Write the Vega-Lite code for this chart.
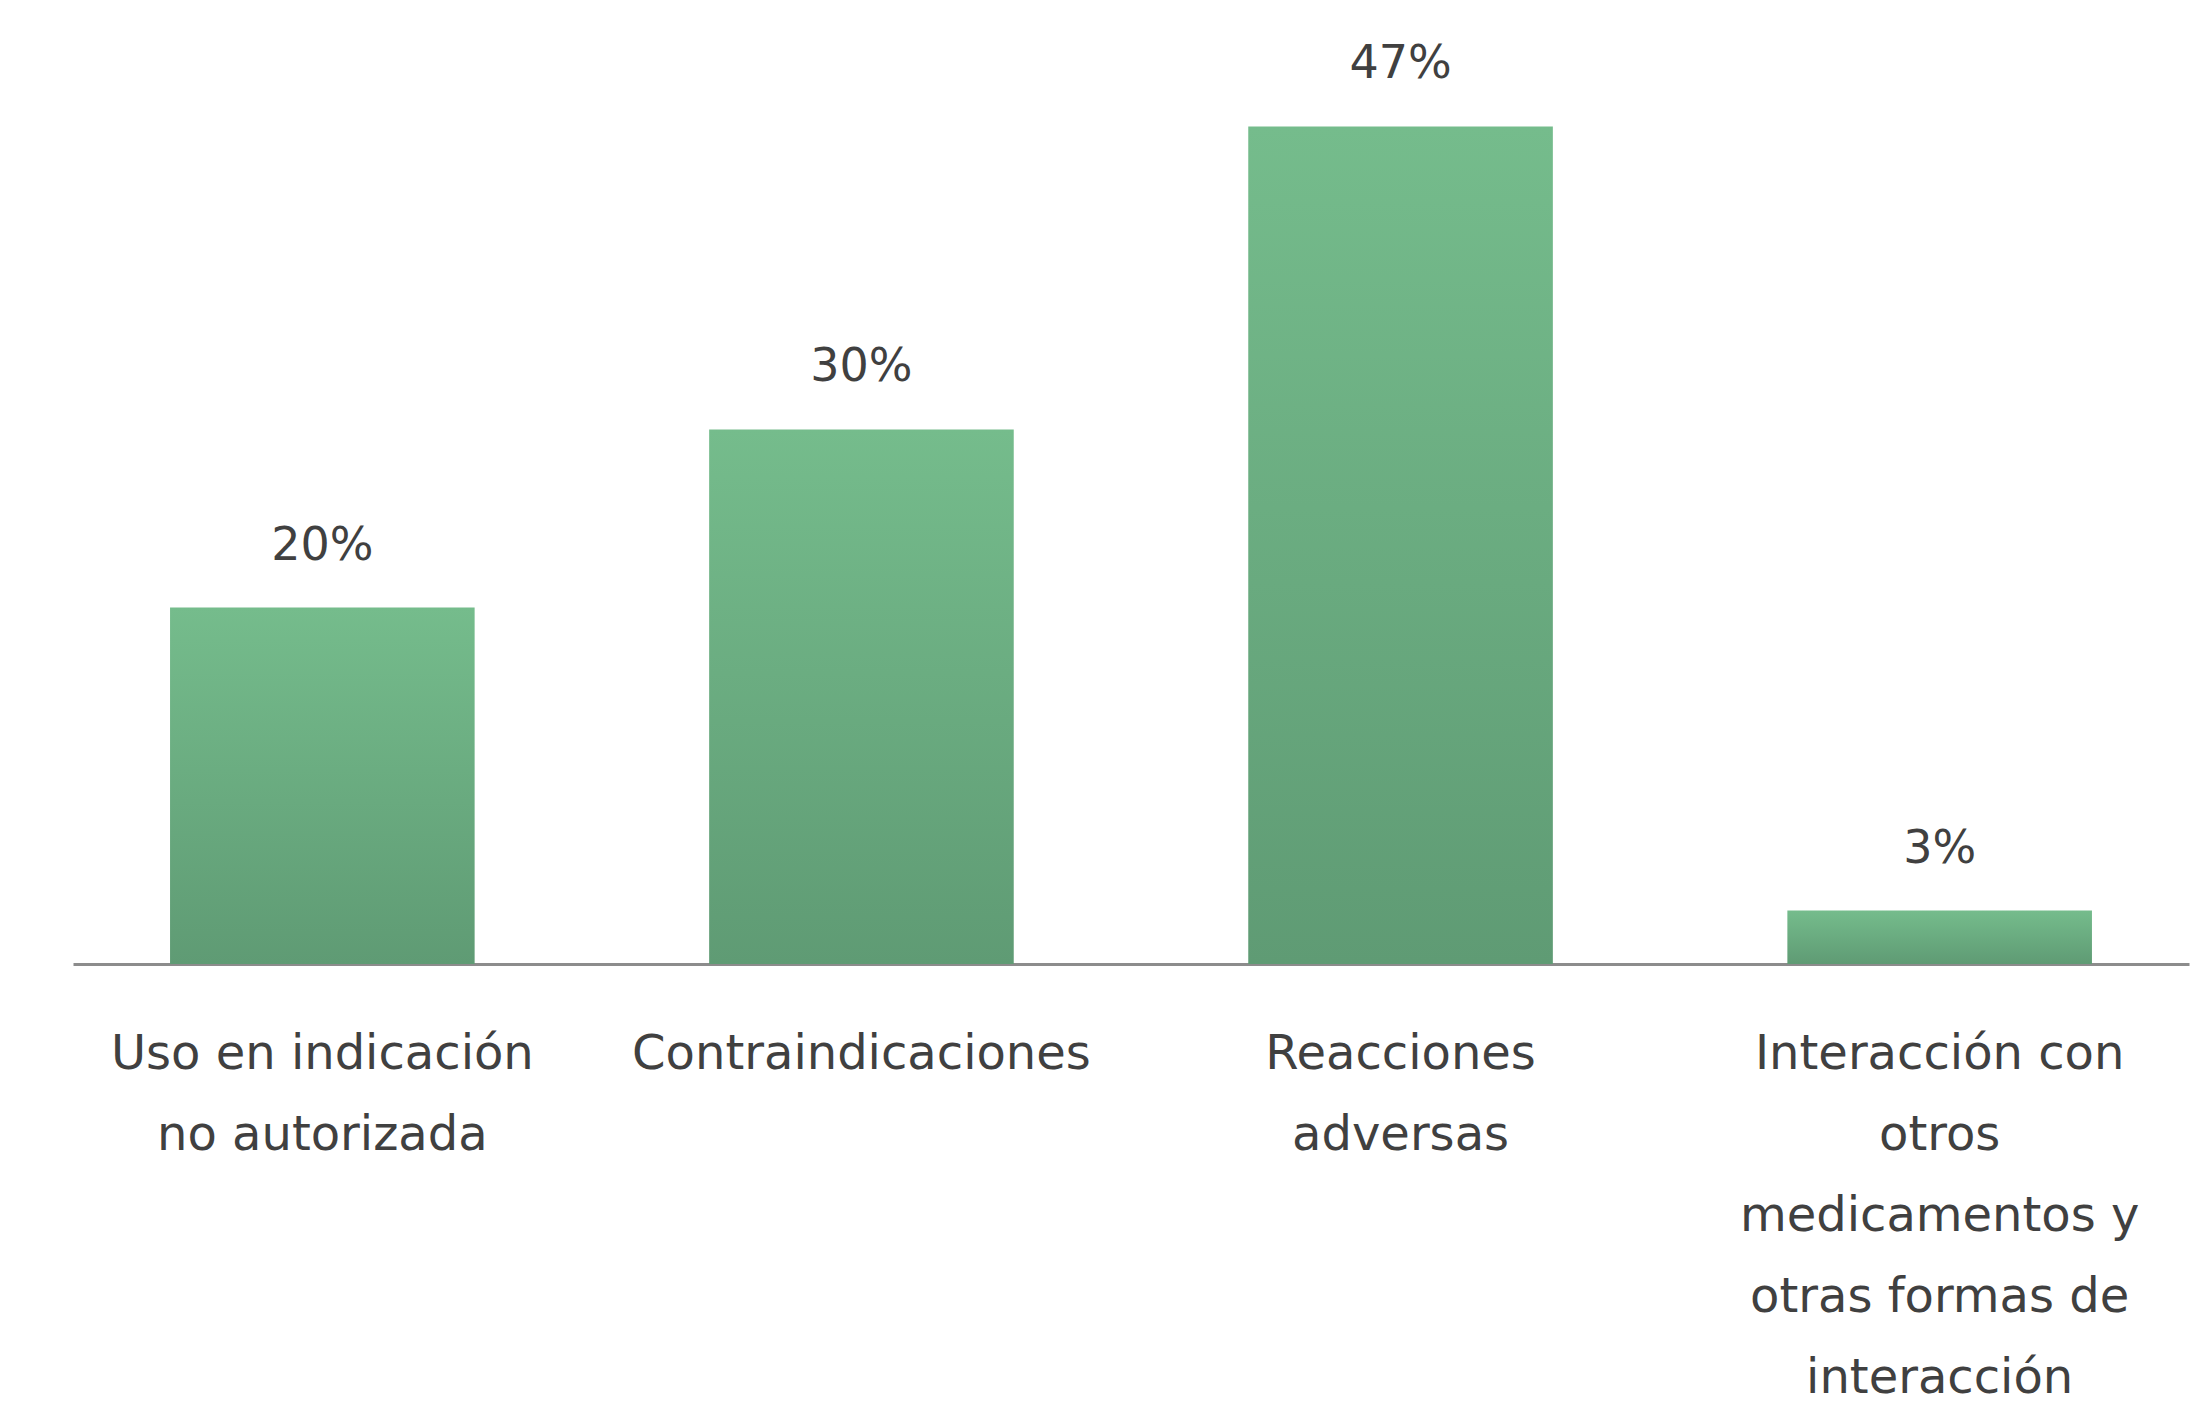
{
  "$schema": "https://vega.github.io/schema/vega-lite/v6.json",
  "autosize": {"type": "none"},
  "width": 2116,
  "height": 891,
  "padding": {"left": 73, "top": 73, "right": 18, "bottom": 446},
  "background": "white",
  "config": {"view": {"stroke": null}, "font": "DejaVu Sans"},
  "data": {
    "values": [
      {"categoria": "Uso en indicación|no autorizada", "valor": 20, "etiqueta": "20%"},
      {"categoria": "Contraindicaciones", "valor": 30, "etiqueta": "30%"},
      {"categoria": "Reacciones|adversas", "valor": 47, "etiqueta": "47%"},
      {"categoria": "Interacción con|otros|medicamentos y|otras formas de|interacción", "valor": 3, "etiqueta": "3%"}
    ]
  },
  "encoding": {
    "x": {
      "field": "categoria",
      "type": "nominal",
      "sort": null,
      "scale": {"paddingInner": 0.435, "paddingOuter": 0.18},
      "axis": {
        "title": null,
        "labelAngle": 0,
        "labelExpr": "split(datum.label, '|')",
        "labelFont": "DejaVu Sans",
        "labelFontSize": 48,
        "labelColor": "#404040",
        "labelLineHeight": 81,
        "labelBaseline": "top",
        "labelPadding": 66,
        "labelLimit": 1000,
        "labelOverlap": false,
        "labelBound": false,
        "ticks": false,
        "domainColor": "#8c8c8c",
        "domainWidth": 3
      }
    },
    "y": {
      "field": "valor",
      "type": "quantitative",
      "scale": {"domain": [0, 50]},
      "axis": null
    }
  },
  "layer": [
    {
      "mark": {
        "type": "bar",
        "color": {
          "gradient": "linear",
          "x1": 0, "y1": 0, "x2": 0, "y2": 1,
          "stops": [
            {"offset": 0, "color": "#75BC8C"},
            {"offset": 1, "color": "#5F9B74"}
          ]
        }
      }
    },
    {
      "mark": {
        "type": "text",
        "baseline": "bottom",
        "dy": -38,
        "font": "DejaVu Sans",
        "fontSize": 46,
        "color": "#404040"
      },
      "encoding": {"text": {"field": "etiqueta"}}
    }
  ]
}
